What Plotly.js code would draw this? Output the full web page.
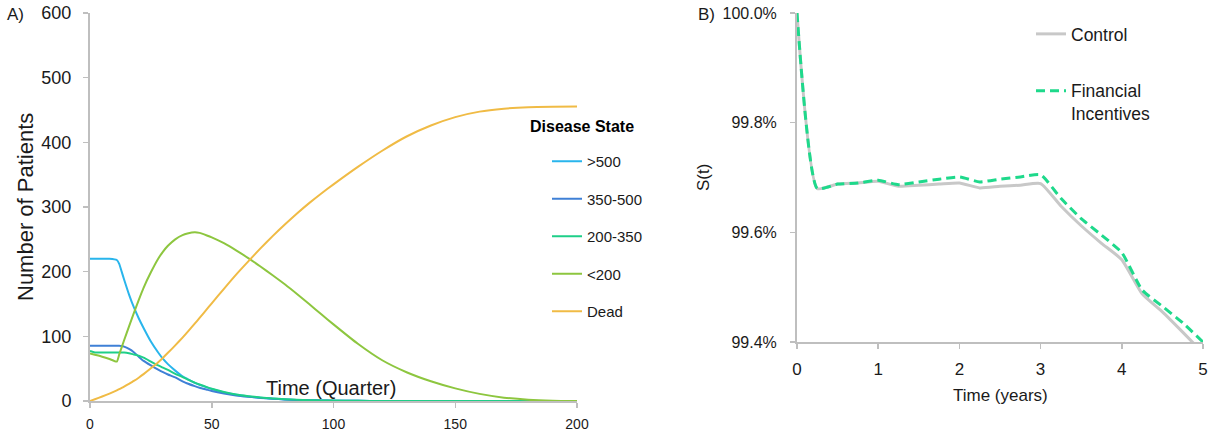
<!DOCTYPE html>
<html>
<head>
<meta charset="utf-8">
<script src="https://cdn.plot.ly/plotly-3.0.1.min.js"></script>
<style>
  html, body { margin: 0; padding: 0; background: #fff; }
  #chart { width: 1215px; height: 433px; }
</style>
</head>
<body>
<div id="chart"></div>
<script>
// ---------- Panel A data: number of patients by disease state ----------
const quarters = [0,2,5,8,11,12,13,14,16,18,20,22,25,28,30,32,35,38,40,43,45,48,50,55,60,65,70,75,80,85,90,95,100,110,120,130,140,150,160,170,180,190,200];
const over500 = [220,220,220,220,218,212,200,188,165,145,128,113,92,75,65,57,47,38,34,28,25,21,18.5,13,9.5,7,5,3.5,2.5,1.7,1.2,0.8,0.5,0.3,0.1,0,0,0,0,0,0,0,0];
const s350to500 = [85.5,85.5,85.5,85.5,85.5,85.5,85,84,80.5,75.5,68.5,62,55,48.5,44.5,41,36.5,30.5,27,23,20.5,17.5,15.5,11.5,8.5,6.5,4.8,3.5,2.5,1.7,1.2,0.8,0.5,0.3,0.1,0,0,0,0,0,0,0,0];
const s200to350 = [77.5,75,75,75,75,75,75,75,74,72,70,67,61,55,51.5,48,42,37,33.5,28.5,25.5,21.5,19,14,10,7.5,5.5,4,2.8,2,1.3,0.9,0.6,0.3,0.1,0,0,0,0,0,0,0,0];
const under200 = [73.5,71.5,68.5,65,61,72,83,94,115,136,156,175,199,220,231,240,250,256.5,259,261,260,256,253,244,233,221,208,194.5,180.5,165.5,150,134,118.5,88.5,63,44.5,30.5,19.5,11,5.2,2,0.5,0];
const dead = [0,2.8,7,11.5,16.5,18.3,20.2,22.2,26.5,31,36,41.5,50.5,60,67,74.5,86,98,106.5,119.5,128.5,142,151,173.5,195.5,216,236,255,273,290,306,321,335,362,387,409,426,439,447.5,452,454.3,455,455.3];
const stateNames = [">500", "350-500", "200-350", "<200", "Dead"];
const xTicksA = [0, 50, 100, 150, 200];
const yTicksA = [0, 100, 200, 300, 400, 500, 600];

// ---------- Panel B data: survival S(t), percent ----------
const years = [0,0.25,0.5,0.75,1,1.25,1.5,1.75,2,2.25,2.5,2.75,3,3.25,3.5,3.75,4,4.25,4.5,4.75,5];
const control = [100.0,99.680,99.688,99.690,99.693,99.684,99.686,99.688,99.690,99.681,99.684,99.686,99.689,99.648,99.612,99.580,99.550,99.488,99.455,99.418,99.380];
const financial = [100.0,99.680,99.688,99.690,99.695,99.687,99.692,99.697,99.701,99.692,99.697,99.701,99.705,99.662,99.625,99.595,99.563,99.495,99.465,99.435,99.400];
const seriesNamesB = ["Control", "Financial<br>Incentives"];
const xTicksB = [0, 1, 2, 3, 4, 5];
const yTicksB = [99.4, 99.6, 99.8, 100.0];

// ---------- helpers for layout placement ----------
const W = 1215, H = 433;
const px = v => v / W;
const py = v => 1 - v / H;
const FONT = "Liberation Sans, Arial, Helvetica, sans-serif";
const TXT = "#1a1a1a";
const AX = "#bfbfbf";

const colorsA = ["#29b5ec", "#3f80d6", "#1ecf88", "#8dc63f", "#f0bb45"];
const seriesA = [over500, s350to500, s200to350, under200, dead];

const traces = seriesA.map((vals, i) => ({
  type: "scatter", mode: "lines",
  x: quarters, y: vals, name: stateNames[i],
  xaxis: "x", yaxis: "y",
  line: { color: colorsA[i], width: 2, shape: "spline", smoothing: 0.5 },
  legend: "legend", legendgroup: "a" + i,
  hoverinfo: "skip"
}));

traces.push({
  type: "scatter", mode: "lines",
  x: years, y: control, name: seriesNamesB[0],
  xaxis: "x2", yaxis: "y2",
  line: { color: "#c8c8c8", width: 3, shape: "spline", smoothing: 0.5 },
  legend: "legend2", legendgroup: "b0", hoverinfo: "skip"
});
traces.push({
  type: "scatter", mode: "lines",
  x: years, y: financial, name: seriesNamesB[1],
  xaxis: "x2", yaxis: "y2",
  line: { color: "#1ed98b", width: 3, dash: "9px,5px", shape: "spline", smoothing: 0.5 },
  legend: "legend2", legendgroup: "b1", hoverinfo: "skip"
});

const axisStyle = {
  showline: true, linecolor: AX, linewidth: 2,
  ticks: "outside", ticklen: 5, tickcolor: AX, tickwidth: 1.5,
  showgrid: false, zeroline: false, fixedrange: true,
  automargin: false
};

const layout = {
  width: W, height: H,
  margin: { l: 0, r: 0, t: 0, b: 0 },
  paper_bgcolor: "#fff", plot_bgcolor: "#fff",
  font: { family: FONT, color: TXT },
  xaxis: Object.assign({}, axisStyle, {
    domain: [px(90), px(577)], anchor: "y",
    range: [0, 200], tickmode: "array", tickvals: xTicksA,
    tickfont: { size: 14, family: FONT, color: TXT },
    ticklabelstandoff: 4
  }),
  yaxis: Object.assign({}, axisStyle, {
    domain: [py(401), py(13)], anchor: "x",
    range: [0, 600], tickmode: "array", tickvals: yTicksA,
    tickfont: { size: 18, family: FONT, color: TXT },
    ticklabelstandoff: 8
  }),
  xaxis2: Object.assign({}, axisStyle, {
    domain: [px(797), px(1203)], anchor: "y2",
    range: [0, 5], tickmode: "array", tickvals: xTicksB,
    tickfont: { size: 17, family: FONT, color: TXT },
    ticklabelstandoff: 6
  }),
  yaxis2: Object.assign({}, axisStyle, {
    domain: [py(342), py(13)], anchor: "x2",
    range: [99.4, 100.0], tickmode: "array", tickvals: yTicksB,
    ticktext: yTicksB.map(v => v.toFixed(1) + "%"),
    tickfont: { size: 16, family: FONT, color: TXT },
    ticklabelstandoff: 10
  }),
  legend: {
    x: px(547), y: py(145), xanchor: "left", yanchor: "top",
    bgcolor: "rgba(0,0,0,0)", borderwidth: 0,
    font: { size: 15, family: FONT, color: TXT },
    traceorder: "grouped", tracegroupgap: 15
  },
  legend2: {
    x: px(1031), y: py(16), xanchor: "left", yanchor: "top",
    bgcolor: "rgba(0,0,0,0)", borderwidth: 0,
    font: { size: 17.5, family: FONT, color: TXT },
    traceorder: "grouped", tracegroupgap: 31, valign: "top"
  },
  annotations: [
    { text: "A)", x: px(5), y: py(15), xref: "paper", yref: "paper", xanchor: "left", yanchor: "middle", showarrow: false, font: { size: 17, family: FONT, color: TXT } },
    { text: "B)", x: px(696), y: py(15), xref: "paper", yref: "paper", xanchor: "left", yanchor: "middle", showarrow: false, font: { size: 17, family: FONT, color: TXT } },
    { text: "Number of Patients", x: px(25), y: py(207), xref: "paper", yref: "paper", xanchor: "center", yanchor: "middle", textangle: -90, showarrow: false, font: { size: 22, family: FONT, color: TXT } },
    { text: "Time (Quarter)", x: px(331), y: py(388), xref: "paper", yref: "paper", xanchor: "center", yanchor: "middle", showarrow: false, font: { size: 20, family: FONT, color: TXT } },
    { text: "<b>Disease State</b>", x: px(528), y: py(127), xref: "paper", yref: "paper", xanchor: "left", yanchor: "middle", showarrow: false, font: { size: 16, family: FONT, color: "#000" } },
    { text: "S(t)", x: px(703), y: py(178), xref: "paper", yref: "paper", xanchor: "center", yanchor: "middle", textangle: -90, showarrow: false, font: { size: 17, family: FONT, color: TXT } },
    { text: "Time (years)", x: px(1000), y: py(395), xref: "paper", yref: "paper", xanchor: "center", yanchor: "middle", showarrow: false, font: { size: 17, family: FONT, color: TXT } }
  ],
  showlegend: true
};

Plotly.newPlot("chart", traces, layout, { displayModeBar: false, staticPlot: true });
</script>
</body>
</html>
